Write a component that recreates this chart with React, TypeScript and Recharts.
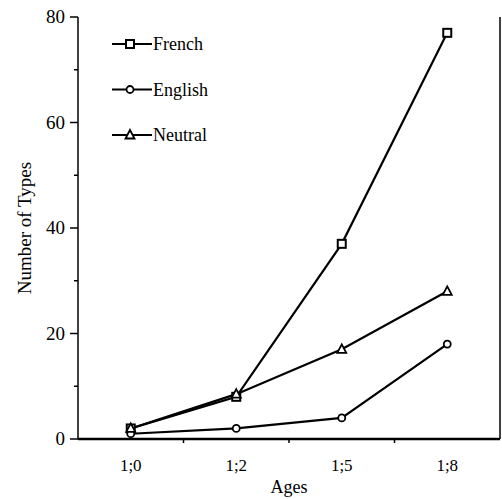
import { LineChart, Line, XAxis, YAxis } from "recharts";

const ages = ["1;0", "1;2", "1;5", "1;8"];
const french = [2, 8, 37, 77];
const english = [1, 2, 4, 18];
const neutral = [2, 8.5, 17, 28];
const yTicks = [0, 10, 20, 30, 40, 50, 60, 70, 80];

const data = ages.map((age, i) => ({
  age,
  French: french[i],
  English: english[i],
  Neutral: neutral[i],
}));

const FONT = "'Liberation Serif', 'Times New Roman', serif";
const BAND = 105.5;

function SquareDot(props: any) {
  const { cx, cy } = props;
  if (cx == null || cy == null) return null;
  return <rect x={cx - 4} y={cy - 4} width={8} height={8} fill="#fff" stroke="#000" strokeWidth={2} />;
}

function CircleDot(props: any) {
  const { cx, cy } = props;
  if (cx == null || cy == null) return null;
  return <circle cx={cx} cy={cy} r={3.5} fill="#fff" stroke="#000" strokeWidth={1.8} />;
}

function TriangleDot(props: any) {
  const { cx, cy } = props;
  if (cx == null || cy == null) return null;
  return (
    <polygon
      points={`${cx},${cy - 5} ${cx - 4.5},${cy + 3.5} ${cx + 4.5},${cy + 3.5}`}
      fill="#fff"
      stroke="#000"
      strokeWidth={1.8}
    />
  );
}

function YTick(props: any) {
  const { x, y, payload } = props;
  const major = payload.value % 20 === 0;
  return (
    <g>
      <line x1={x - (major ? 8 : 4)} y1={y} x2={x} y2={y} stroke="#000" strokeWidth={1.5} />
      {major && (
        <text x={x - 13} y={y} dy={6} textAnchor="end" fontSize={19} fontFamily={FONT} fill="#000">
          {payload.value}
        </text>
      )}
    </g>
  );
}

function XTick(props: any) {
  const { x, y, payload, index } = props;
  return (
    <g>
      {index < ages.length - 1 && (
        <line x1={x + BAND / 2} y1={y} x2={x + BAND / 2} y2={y + 4} stroke="#000" strokeWidth={1.5} />
      )}
      <text x={x} y={y + 32} textAnchor="middle" fontSize={17} fontFamily={FONT} fill="#000">
        {payload.value}
      </text>
    </g>
  );
}

function YLabel(props: any) {
  const { viewBox } = props;
  if (!viewBox) return null;
  const cy = viewBox.y + viewBox.height / 2;
  const cx = 24;
  return (
    <text
      x={cx}
      y={cy}
      transform={`rotate(-90 ${cx} ${cy})`}
      textAnchor="middle"
      dominantBaseline="central"
      fontSize={19}
      fontFamily={FONT}
      fill="#000"
    >
      Number of Types
    </text>
  );
}

const legendItems = [
  { name: "French", Dot: SquareDot },
  { name: "English", Dot: CircleDot },
  { name: "Neutral", Dot: TriangleDot },
];

function LegendBox() {
  return (
    <svg width={140} height={130} style={{ position: "absolute", left: 110, top: 28 }}>
      {legendItems.map((item, i) => {
        const cy = 16 + i * 45.5;
        return (
          <g key={item.name}>
            <line x1={2} y1={cy} x2={42} y2={cy} stroke="#000" strokeWidth={2} />
            <item.Dot cx={20} cy={cy} />
            <text x={43} y={cy + 6} fontSize={18} fontFamily={FONT} fill="#000">
              {item.name}
            </text>
          </g>
        );
      })}
    </svg>
  );
}

export default function App() {
  return (
    <div style={{ position: "absolute", left: 0, top: 0, width: 502, height: 499, background: "#fff" }}>
      <LineChart width={502} height={499} data={data} margin={{ top: 17, right: 0, bottom: 0, left: 0 }}>
        <XAxis
          dataKey="age"
          scale="band"
          height={60}
          axisLine={{ stroke: "#000", strokeWidth: 2.5 }}
          tickLine={false}
          tickSize={0}
          tickMargin={0}
          interval={0}
          tick={<XTick />}
          label={{ value: "Ages", position: "insideBottom", offset: 0, dy: -6, fontSize: 18, fontFamily: FONT, fill: "#000" }}
        />
        <XAxis
          xAxisId="top"
          orientation="top"
          dataKey="age"
          scale="band"
          height={0}
          tick={false}
          tickLine={false}
          axisLine={{ stroke: "#000", strokeWidth: 2.5 }}
        />
        <YAxis
          yAxisId="left"
          width={78}
          domain={[0, 80]}
          ticks={yTicks}
          interval={0}
          tickLine={false}
          tickSize={0}
          tickMargin={0}
          tick={<YTick />}
          axisLine={{ stroke: "#000", strokeWidth: 1.5 }}
          label={<YLabel />}
        />
        <YAxis
          yAxisId="right"
          orientation="right"
          width={2}
          domain={[0, 80]}
          tick={false}
          tickLine={false}
          axisLine={{ stroke: "#000", strokeWidth: 1.5 }}
        />
        <Line yAxisId="left" dataKey="French" stroke="#000" strokeWidth={2.2} dot={<SquareDot />} isAnimationActive={false} />
        <Line yAxisId="left" dataKey="English" stroke="#000" strokeWidth={2.2} dot={<CircleDot />} isAnimationActive={false} />
        <Line yAxisId="left" dataKey="Neutral" stroke="#000" strokeWidth={2.2} dot={<TriangleDot />} isAnimationActive={false} />
      </LineChart>
      <LegendBox />
    </div>
  );
}
